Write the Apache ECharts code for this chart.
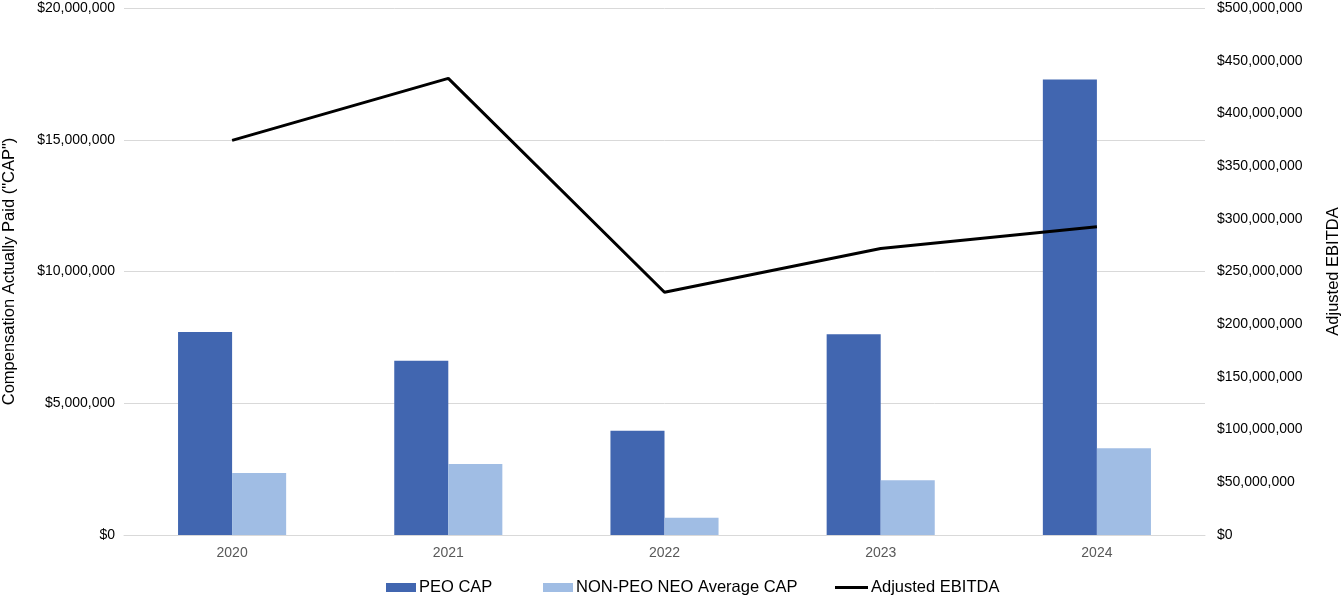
<!DOCTYPE html>
<html>
<head>
<meta charset="utf-8">
<script src="https://cdn.jsdelivr.net/npm/echarts@6/dist/echarts.min.js"></script>
<style>html,body{margin:0;padding:0;background:#fff;}#c{width:1341px;height:597px;}</style>
</head>
<body>
<div id="c"></div>
<script>
const years = ['2020', '2021', '2022', '2023', '2024'];
const peoCap = [7700000, 6610000, 3960000, 7620000, 17290000];
const nonPeoCap = [2350000, 2690000, 650000, 2080000, 3290000];
const adjEbitda = [374400000, 433200000, 230300000, 271800000, 292400000];
const leftTicks = [0, 5000000, 10000000, 15000000, 20000000];
const rightTicks = [0, 50000000, 100000000, 150000000, 200000000, 250000000, 300000000, 350000000, 400000000, 450000000, 500000000];

const fmt = v => '$' + Math.round(v).toString().replace(/\B(?=(\d{3})+(?!\d))/g, ',');
const FONT = '"Liberation Sans", Arial, sans-serif';
const legendText = {fontSize: 16.5, color: '#000', fontFamily: FONT, padding: [0, 0, 0, -2]};

const chart = echarts.init(document.getElementById('c'), null, {renderer: 'canvas'});
chart.setOption({
  animation: false,
  textStyle: {fontFamily: FONT},
  grid: {left: 124, right: 136, top: 8, bottom: 62, containLabel: false, outerBoundsMode: 'none'},
  legend: [
    {
      top: 579, left: 386, padding: 0, itemWidth: 30, itemHeight: 9,
      textStyle: legendText,
      data: [{name: 'PEO CAP', icon: 'rect'}]
    },
    {
      top: 579, left: 543, padding: 0, itemWidth: 30, itemHeight: 9,
      textStyle: legendText,
      data: [{name: 'NON-PEO NEO Average CAP', icon: 'rect'}]
    },
    {
      top: 579, left: 835, padding: 0, itemWidth: 33, itemHeight: 9,
      textStyle: legendText,
      data: [{name: 'Adjusted EBITDA', icon: 'path://M0,0 L33,0 L33,3 L0,3 Z'}]
    }
  ],
  xAxis: {
    type: 'category',
    data: years,
    axisTick: {show: false},
    axisLine: {lineStyle: {color: '#d9d9d9', width: 1}},
    axisLabel: {fontSize: 14, color: '#595959', margin: 11, fontFamily: FONT}
  },
  yAxis: [
    {
      type: 'value',
      min: leftTicks[0],
      max: leftTicks[leftTicks.length - 1],
      interval: leftTicks[1] - leftTicks[0],
      name: 'Compensation Actually Paid ("CAP")',
      nameLocation: 'middle',
      nameRotate: 90,
      nameGap: 106,
      nameTextStyle: {fontSize: 16.5, color: '#000', fontFamily: FONT},
      axisLine: {show: false},
      axisTick: {show: false},
      axisLabel: {fontSize: 14, color: '#000', margin: 9, formatter: fmt, fontFamily: FONT},
      splitLine: {lineStyle: {color: '#d9d9d9', width: 1}}
    },
    {
      type: 'value',
      min: rightTicks[0],
      max: rightTicks[rightTicks.length - 1],
      interval: rightTicks[1] - rightTicks[0],
      name: 'Adjusted EBITDA',
      nameLocation: 'middle',
      nameRotate: 90,
      nameGap: 120,
      nameTextStyle: {fontSize: 16.5, color: '#000', fontFamily: FONT},
      position: 'right',
      axisLine: {show: false},
      axisTick: {show: false},
      axisLabel: {fontSize: 14, color: '#000', margin: 12, formatter: fmt, fontFamily: FONT},
      splitLine: {show: false}
    }
  ],
  series: [
    {
      name: 'PEO CAP',
      type: 'bar',
      data: peoCap,
      barWidth: '25%',
      barGap: '0%',
      itemStyle: {color: '#4166B0'}
    },
    {
      name: 'NON-PEO NEO Average CAP',
      type: 'bar',
      data: nonPeoCap,
      barWidth: '25%',
      barGap: '0%',
      itemStyle: {color: '#A0BDE4'}
    },
    {
      name: 'Adjusted EBITDA',
      type: 'line',
      yAxisIndex: 1,
      data: adjEbitda,
      symbol: 'none',
      showSymbol: false,
      lineStyle: {color: '#000', width: 3},
      itemStyle: {color: '#000'}
    }
  ]
});
</script>
</body>
</html>
